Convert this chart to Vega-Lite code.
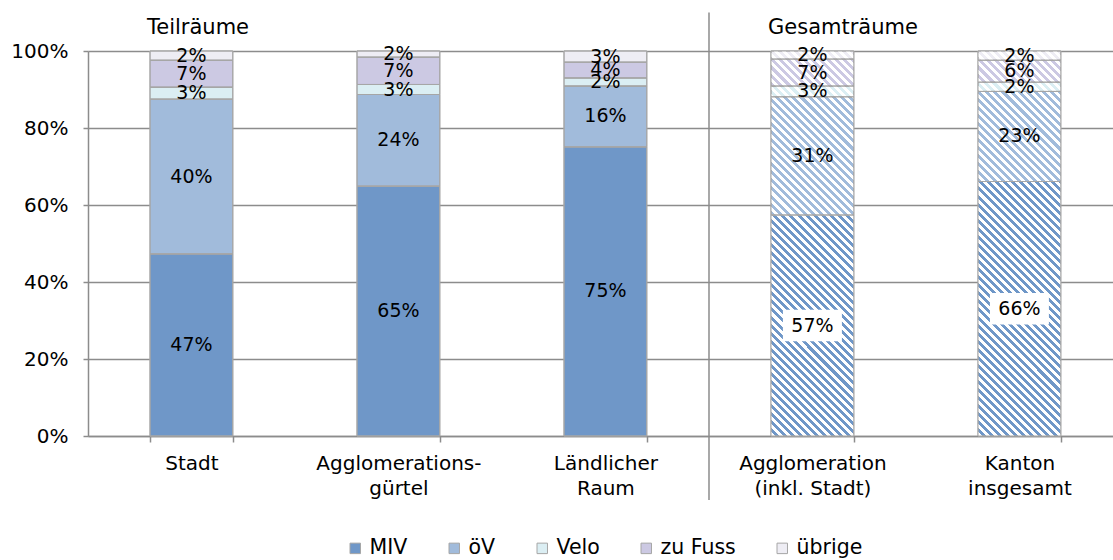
{
  "$schema": "https://vega.github.io/schema/vega-lite/v6.json",
  "width": 1025,
  "height": 385,
  "autosize": {"type": "none"},
  "padding": {"left": 88, "top": 51, "right": 0, "bottom": 124},
  "config": {"view": {"stroke": null}, "font": "DejaVu Sans"},
  "layer": [
    {
      "data": {"values": [
        {"Raum": "Stadt", "Gruppe": "Teilräume", "Modus": "MIV", "Anteil": 0.473},
        {"Raum": "Stadt", "Gruppe": "Teilräume", "Modus": "öV", "Anteil": 0.402},
        {"Raum": "Stadt", "Gruppe": "Teilräume", "Modus": "Velo", "Anteil": 0.031},
        {"Raum": "Stadt", "Gruppe": "Teilräume", "Modus": "zu Fuss", "Anteil": 0.070},
        {"Raum": "Stadt", "Gruppe": "Teilräume", "Modus": "übrige", "Anteil": 0.024},
        {"Raum": "Agglomerationsgürtel", "Gruppe": "Teilräume", "Modus": "MIV", "Anteil": 0.649},
        {"Raum": "Agglomerationsgürtel", "Gruppe": "Teilräume", "Modus": "öV", "Anteil": 0.238},
        {"Raum": "Agglomerationsgürtel", "Gruppe": "Teilräume", "Modus": "Velo", "Anteil": 0.026},
        {"Raum": "Agglomerationsgürtel", "Gruppe": "Teilräume", "Modus": "zu Fuss", "Anteil": 0.071},
        {"Raum": "Agglomerationsgürtel", "Gruppe": "Teilräume", "Modus": "übrige", "Anteil": 0.016},
        {"Raum": "Ländlicher Raum", "Gruppe": "Teilräume", "Modus": "MIV", "Anteil": 0.751},
        {"Raum": "Ländlicher Raum", "Gruppe": "Teilräume", "Modus": "öV", "Anteil": 0.158},
        {"Raum": "Ländlicher Raum", "Gruppe": "Teilräume", "Modus": "Velo", "Anteil": 0.021},
        {"Raum": "Ländlicher Raum", "Gruppe": "Teilräume", "Modus": "zu Fuss", "Anteil": 0.041},
        {"Raum": "Ländlicher Raum", "Gruppe": "Teilräume", "Modus": "übrige", "Anteil": 0.029},
        {"Raum": "Agglomeration (inkl. Stadt)", "Gruppe": "Gesamträume", "Modus": "MIV", "Anteil": 0.574},
        {"Raum": "Agglomeration (inkl. Stadt)", "Gruppe": "Gesamträume", "Modus": "öV", "Anteil": 0.307},
        {"Raum": "Agglomeration (inkl. Stadt)", "Gruppe": "Gesamträume", "Modus": "Velo", "Anteil": 0.028},
        {"Raum": "Agglomeration (inkl. Stadt)", "Gruppe": "Gesamträume", "Modus": "zu Fuss", "Anteil": 0.070},
        {"Raum": "Agglomeration (inkl. Stadt)", "Gruppe": "Gesamträume", "Modus": "übrige", "Anteil": 0.021},
        {"Raum": "Kanton insgesamt", "Gruppe": "Gesamträume", "Modus": "MIV", "Anteil": 0.661},
        {"Raum": "Kanton insgesamt", "Gruppe": "Gesamträume", "Modus": "öV", "Anteil": 0.234},
        {"Raum": "Kanton insgesamt", "Gruppe": "Gesamträume", "Modus": "Velo", "Anteil": 0.024},
        {"Raum": "Kanton insgesamt", "Gruppe": "Gesamträume", "Modus": "zu Fuss", "Anteil": 0.057},
        {"Raum": "Kanton insgesamt", "Gruppe": "Gesamträume", "Modus": "übrige", "Anteil": 0.024}
      ]},
      "transform": [
        {"calculate": "indexof(['MIV','öV','Velo','zu Fuss','übrige'], datum.Modus)", "as": "ord"},
        {"stack": "Anteil", "groupby": ["Raum"], "sort": [{"field": "ord"}], "offset": "normalize", "as": ["y0", "y1"]},
        {"calculate": "(datum.y0 + datum.y1) / 2", "as": "ymid"}
      ],
      "encoding": {
        "x": {
          "field": "Raum", "type": "nominal",
          "scale": {"domain": ["Stadt", "Agglomerationsgürtel", "Ländlicher Raum", "Agglomeration (inkl. Stadt)", "Kanton insgesamt"], "paddingInner": 0.6, "paddingOuter": 0.2758, "align": 0.543},
          "axis": {
            "title": null, "labelAngle": 0, "tickBand": "extent", "tickSize": 6, "tickColor": "#8c8c8c", "tickWidth": 1.5,
            "domainColor": "#8c8c8c", "domainWidth": 1.5, "labelFont": "DejaVu Sans", "labelFontSize": 20, "labelColor": "#000000",
            "labelPadding": 11, "labelLineHeight": 25, "grid": false,
            "labelExpr": "datum.label == 'Agglomerationsgürtel' ? ['Agglomerations-', 'gürtel'] : datum.label == 'Agglomeration (inkl. Stadt)' ? ['Agglomeration', '(inkl. Stadt)'] : split(datum.label || '', ' ')"
          }
        }
      },
      "layer": [
        {
          "mark": {"type": "bar", "stroke": "#a6a6a6", "strokeWidth": 1},
          "encoding": {
            "y": {
              "field": "y0", "type": "quantitative",
              "scale": {"domain": [0, 1], "nice": false, "zero": true},
              "axis": {
                "title": null, "values": [0, 0.2, 0.4, 0.6, 0.8, 1], "format": ".0%", "grid": true,
                "gridColor": "#8c8c8c", "gridWidth": 1.5, "tickColor": "#8c8c8c", "tickWidth": 1.5, "tickSize": 5,
                "domainColor": "#8c8c8c", "domainWidth": 1.5, "labelFont": "DejaVu Sans", "labelFontSize": 20,
                "labelColor": "#000000", "labelPadding": 15
              }
            },
            "y2": {"field": "y1"},
            "color": {
              "field": "Modus", "type": "nominal",
              "scale": {"domain": ["MIV", "öV", "Velo", "zu Fuss", "übrige"], "range": ["#6f97c8", "#a1bbdb", "#dbeef3", "#ccc9e3", "#eeedf4"]},
              "legend": {
                "orient": "none", "legendX": 257, "legendY": 487, "direction": "horizontal", "title": null,
                "symbolType": "square", "symbolSize": 110, "symbolStrokeColor": "#a6a6a6", "symbolStrokeWidth": 1,
                "labelFont": "DejaVu Sans", "labelFontSize": 20.5, "labelColor": "#000000", "labelOffset": 4, "columnPadding": 36
              }
            }
          }
        },
        {
          "transform": [{"filter": "datum.Gruppe == 'Gesamträume' && datum.Modus == 'MIV'"}],
          "mark": {"type": "bar", "fill": {"gradient": "linear", "x1": 0, "y1": 1, "x2": 0.2498, "y2": -0.1613, "stops": [
            {"offset": 0, "color": "#fff"},
            {"offset": 0.0086, "color": "#fff"}, {"offset": 0.0086, "color": "#fff0"},
            {"offset": 0.0172, "color": "#fff0"}, {"offset": 0.0172, "color": "#fff"},
            {"offset": 0.0259, "color": "#fff"}, {"offset": 0.0259, "color": "#fff0"},
            {"offset": 0.0345, "color": "#fff0"}, {"offset": 0.0345, "color": "#fff"},
            {"offset": 0.0431, "color": "#fff"}, {"offset": 0.0431, "color": "#fff0"},
            {"offset": 0.0517, "color": "#fff0"}, {"offset": 0.0517, "color": "#fff"},
            {"offset": 0.0603, "color": "#fff"}, {"offset": 0.0603, "color": "#fff0"},
            {"offset": 0.0690, "color": "#fff0"}, {"offset": 0.0690, "color": "#fff"},
            {"offset": 0.0776, "color": "#fff"}, {"offset": 0.0776, "color": "#fff0"},
            {"offset": 0.0862, "color": "#fff0"}, {"offset": 0.0862, "color": "#fff"},
            {"offset": 0.0948, "color": "#fff"}, {"offset": 0.0948, "color": "#fff0"},
            {"offset": 0.1034, "color": "#fff0"}, {"offset": 0.1034, "color": "#fff"},
            {"offset": 0.1121, "color": "#fff"}, {"offset": 0.1121, "color": "#fff0"},
            {"offset": 0.1207, "color": "#fff0"}, {"offset": 0.1207, "color": "#fff"},
            {"offset": 0.1293, "color": "#fff"}, {"offset": 0.1293, "color": "#fff0"},
            {"offset": 0.1379, "color": "#fff0"}, {"offset": 0.1379, "color": "#fff"},
            {"offset": 0.1466, "color": "#fff"}, {"offset": 0.1466, "color": "#fff0"},
            {"offset": 0.1552, "color": "#fff0"}, {"offset": 0.1552, "color": "#fff"},
            {"offset": 0.1638, "color": "#fff"}, {"offset": 0.1638, "color": "#fff0"},
            {"offset": 0.1724, "color": "#fff0"}, {"offset": 0.1724, "color": "#fff"},
            {"offset": 0.1810, "color": "#fff"}, {"offset": 0.1810, "color": "#fff0"},
            {"offset": 0.1897, "color": "#fff0"}, {"offset": 0.1897, "color": "#fff"},
            {"offset": 0.1983, "color": "#fff"}, {"offset": 0.1983, "color": "#fff0"},
            {"offset": 0.2069, "color": "#fff0"}, {"offset": 0.2069, "color": "#fff"},
            {"offset": 0.2155, "color": "#fff"}, {"offset": 0.2155, "color": "#fff0"},
            {"offset": 0.2241, "color": "#fff0"}, {"offset": 0.2241, "color": "#fff"},
            {"offset": 0.2328, "color": "#fff"}, {"offset": 0.2328, "color": "#fff0"},
            {"offset": 0.2414, "color": "#fff0"}, {"offset": 0.2414, "color": "#fff"},
            {"offset": 0.2500, "color": "#fff"}, {"offset": 0.2500, "color": "#fff0"},
            {"offset": 0.2586, "color": "#fff0"}, {"offset": 0.2586, "color": "#fff"},
            {"offset": 0.2672, "color": "#fff"}, {"offset": 0.2672, "color": "#fff0"},
            {"offset": 0.2759, "color": "#fff0"}, {"offset": 0.2759, "color": "#fff"},
            {"offset": 0.2845, "color": "#fff"}, {"offset": 0.2845, "color": "#fff0"},
            {"offset": 0.2931, "color": "#fff0"}, {"offset": 0.2931, "color": "#fff"},
            {"offset": 0.3017, "color": "#fff"}, {"offset": 0.3017, "color": "#fff0"},
            {"offset": 0.3103, "color": "#fff0"}, {"offset": 0.3103, "color": "#fff"},
            {"offset": 0.3190, "color": "#fff"}, {"offset": 0.3190, "color": "#fff0"},
            {"offset": 0.3276, "color": "#fff0"}, {"offset": 0.3276, "color": "#fff"},
            {"offset": 0.3362, "color": "#fff"}, {"offset": 0.3362, "color": "#fff0"},
            {"offset": 0.3448, "color": "#fff0"}, {"offset": 0.3448, "color": "#fff"},
            {"offset": 0.3534, "color": "#fff"}, {"offset": 0.3534, "color": "#fff0"},
            {"offset": 0.3621, "color": "#fff0"}, {"offset": 0.3621, "color": "#fff"},
            {"offset": 0.3707, "color": "#fff"}, {"offset": 0.3707, "color": "#fff0"},
            {"offset": 0.3793, "color": "#fff0"}, {"offset": 0.3793, "color": "#fff"},
            {"offset": 0.3879, "color": "#fff"}, {"offset": 0.3879, "color": "#fff0"},
            {"offset": 0.3966, "color": "#fff0"}, {"offset": 0.3966, "color": "#fff"},
            {"offset": 0.4052, "color": "#fff"}, {"offset": 0.4052, "color": "#fff0"},
            {"offset": 0.4138, "color": "#fff0"}, {"offset": 0.4138, "color": "#fff"},
            {"offset": 0.4224, "color": "#fff"}, {"offset": 0.4224, "color": "#fff0"},
            {"offset": 0.4310, "color": "#fff0"}, {"offset": 0.4310, "color": "#fff"},
            {"offset": 0.4397, "color": "#fff"}, {"offset": 0.4397, "color": "#fff0"},
            {"offset": 0.4483, "color": "#fff0"}, {"offset": 0.4483, "color": "#fff"},
            {"offset": 0.4569, "color": "#fff"}, {"offset": 0.4569, "color": "#fff0"},
            {"offset": 0.4655, "color": "#fff0"}, {"offset": 0.4655, "color": "#fff"},
            {"offset": 0.4741, "color": "#fff"}, {"offset": 0.4741, "color": "#fff0"},
            {"offset": 0.4828, "color": "#fff0"}, {"offset": 0.4828, "color": "#fff"},
            {"offset": 0.4914, "color": "#fff"}, {"offset": 0.4914, "color": "#fff0"},
            {"offset": 0.5000, "color": "#fff0"}, {"offset": 0.5000, "color": "#fff"},
            {"offset": 0.5086, "color": "#fff"}, {"offset": 0.5086, "color": "#fff0"},
            {"offset": 0.5172, "color": "#fff0"}, {"offset": 0.5172, "color": "#fff"},
            {"offset": 0.5259, "color": "#fff"}, {"offset": 0.5259, "color": "#fff0"},
            {"offset": 0.5345, "color": "#fff0"}, {"offset": 0.5345, "color": "#fff"},
            {"offset": 0.5431, "color": "#fff"}, {"offset": 0.5431, "color": "#fff0"},
            {"offset": 0.5517, "color": "#fff0"}, {"offset": 0.5517, "color": "#fff"},
            {"offset": 0.5603, "color": "#fff"}, {"offset": 0.5603, "color": "#fff0"},
            {"offset": 0.5690, "color": "#fff0"}, {"offset": 0.5690, "color": "#fff"},
            {"offset": 0.5776, "color": "#fff"}, {"offset": 0.5776, "color": "#fff0"},
            {"offset": 0.5862, "color": "#fff0"}, {"offset": 0.5862, "color": "#fff"},
            {"offset": 0.5948, "color": "#fff"}, {"offset": 0.5948, "color": "#fff0"},
            {"offset": 0.6034, "color": "#fff0"}, {"offset": 0.6034, "color": "#fff"},
            {"offset": 0.6121, "color": "#fff"}, {"offset": 0.6121, "color": "#fff0"},
            {"offset": 0.6207, "color": "#fff0"}, {"offset": 0.6207, "color": "#fff"},
            {"offset": 0.6293, "color": "#fff"}, {"offset": 0.6293, "color": "#fff0"},
            {"offset": 0.6379, "color": "#fff0"}, {"offset": 0.6379, "color": "#fff"},
            {"offset": 0.6466, "color": "#fff"}, {"offset": 0.6466, "color": "#fff0"},
            {"offset": 0.6552, "color": "#fff0"}, {"offset": 0.6552, "color": "#fff"},
            {"offset": 0.6638, "color": "#fff"}, {"offset": 0.6638, "color": "#fff0"},
            {"offset": 0.6724, "color": "#fff0"}, {"offset": 0.6724, "color": "#fff"},
            {"offset": 0.6810, "color": "#fff"}, {"offset": 0.6810, "color": "#fff0"},
            {"offset": 0.6897, "color": "#fff0"}, {"offset": 0.6897, "color": "#fff"},
            {"offset": 0.6983, "color": "#fff"}, {"offset": 0.6983, "color": "#fff0"},
            {"offset": 0.7069, "color": "#fff0"}, {"offset": 0.7069, "color": "#fff"},
            {"offset": 0.7155, "color": "#fff"}, {"offset": 0.7155, "color": "#fff0"},
            {"offset": 0.7241, "color": "#fff0"}, {"offset": 0.7241, "color": "#fff"},
            {"offset": 0.7328, "color": "#fff"}, {"offset": 0.7328, "color": "#fff0"},
            {"offset": 0.7414, "color": "#fff0"}, {"offset": 0.7414, "color": "#fff"},
            {"offset": 0.7500, "color": "#fff"}, {"offset": 0.7500, "color": "#fff0"},
            {"offset": 0.7586, "color": "#fff0"}, {"offset": 0.7586, "color": "#fff"},
            {"offset": 0.7672, "color": "#fff"}, {"offset": 0.7672, "color": "#fff0"},
            {"offset": 0.7759, "color": "#fff0"}, {"offset": 0.7759, "color": "#fff"},
            {"offset": 0.7845, "color": "#fff"}, {"offset": 0.7845, "color": "#fff0"},
            {"offset": 0.7931, "color": "#fff0"}, {"offset": 0.7931, "color": "#fff"},
            {"offset": 0.8017, "color": "#fff"}, {"offset": 0.8017, "color": "#fff0"},
            {"offset": 0.8103, "color": "#fff0"}, {"offset": 0.8103, "color": "#fff"},
            {"offset": 0.8190, "color": "#fff"}, {"offset": 0.8190, "color": "#fff0"},
            {"offset": 0.8276, "color": "#fff0"}, {"offset": 0.8276, "color": "#fff"},
            {"offset": 0.8362, "color": "#fff"}, {"offset": 0.8362, "color": "#fff0"},
            {"offset": 0.8448, "color": "#fff0"}, {"offset": 0.8448, "color": "#fff"},
            {"offset": 0.8534, "color": "#fff"}, {"offset": 0.8534, "color": "#fff0"},
            {"offset": 0.8621, "color": "#fff0"}, {"offset": 0.8621, "color": "#fff"},
            {"offset": 0.8707, "color": "#fff"}, {"offset": 0.8707, "color": "#fff0"},
            {"offset": 0.8793, "color": "#fff0"}, {"offset": 0.8793, "color": "#fff"},
            {"offset": 0.8879, "color": "#fff"}, {"offset": 0.8879, "color": "#fff0"},
            {"offset": 0.8966, "color": "#fff0"}, {"offset": 0.8966, "color": "#fff"},
            {"offset": 0.9052, "color": "#fff"}, {"offset": 0.9052, "color": "#fff0"},
            {"offset": 0.9138, "color": "#fff0"}, {"offset": 0.9138, "color": "#fff"},
            {"offset": 0.9224, "color": "#fff"}, {"offset": 0.9224, "color": "#fff0"},
            {"offset": 0.9310, "color": "#fff0"}, {"offset": 0.9310, "color": "#fff"},
            {"offset": 0.9397, "color": "#fff"}, {"offset": 0.9397, "color": "#fff0"},
            {"offset": 0.9483, "color": "#fff0"}, {"offset": 0.9483, "color": "#fff"},
            {"offset": 0.9569, "color": "#fff"}, {"offset": 0.9569, "color": "#fff0"},
            {"offset": 0.9655, "color": "#fff0"}, {"offset": 0.9655, "color": "#fff"},
            {"offset": 0.9741, "color": "#fff"}, {"offset": 0.9741, "color": "#fff0"},
            {"offset": 0.9828, "color": "#fff0"}, {"offset": 0.9828, "color": "#fff"},
            {"offset": 0.9914, "color": "#fff"}, {"offset": 0.9914, "color": "#fff0"},
            {"offset": 1, "color": "#fff0"}
          ]}},
          "encoding": {
            "y": {"datum": 0, "type": "quantitative"},
            "y2": {"datum": 1}
          }
        },
        {
          "mark": {"type": "bar", "fill": "#ffffff", "fillOpacity": 0, "stroke": "#a6a6a6", "strokeWidth": 1},
          "encoding": {
            "y": {"field": "y0", "type": "quantitative"},
            "y2": {"field": "y1"}
          }
        },
        {
          "transform": [{"filter": "datum.Gruppe == 'Gesamträume' && datum.Modus == 'MIV'"}],
          "mark": {"type": "point", "shape": "M-1,-0.53L1,-0.53L1,0.53L-1,0.53Z", "size": 3481, "filled": true, "color": "#ffffff", "opacity": 1, "strokeWidth": 0},
          "encoding": {
            "y": {"field": "ymid", "type": "quantitative"}
          }
        },
        {
          "mark": {"type": "text", "font": "DejaVu Sans", "fontSize": 19, "color": "#000000", "baseline": "middle", "align": "center"},
          "encoding": {
            "y": {"field": "ymid", "type": "quantitative"},
            "text": {"field": "Anteil", "type": "quantitative", "format": ".0%"}
          }
        }
      ]
    },
    {
      "data": {"values": [
        {"Raum": "Stadt", "Titel": "Teilräume"},
        {"Raum": "Agglomeration (inkl. Stadt)", "Titel": "Gesamträume"}
      ]},
      "mark": {"type": "text", "font": "DejaVu Sans", "fontSize": 21, "color": "#000000", "align": "left", "baseline": "alphabetic", "dx": -3, "dy": -17},
      "encoding": {
        "x": {"field": "Raum", "type": "nominal", "bandPosition": 0},
        "y": {"datum": 1, "type": "quantitative"},
        "text": {"field": "Titel"}
      }
    },
    {
      "data": {"values": [{"Raum": "Agglomeration (inkl. Stadt)"}]},
      "mark": {"type": "rule", "color": "#8c8c8c", "strokeWidth": 1.5},
      "encoding": {
        "x": {"field": "Raum", "type": "nominal", "bandPosition": -0.749},
        "y": {"datum": 1.1, "type": "quantitative"},
        "y2": {"datum": -0.166}
      }
    }
  ]
}
